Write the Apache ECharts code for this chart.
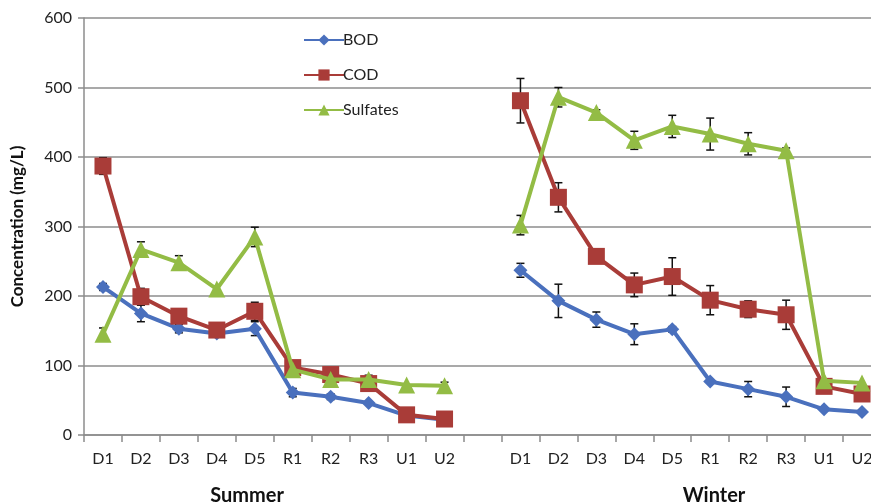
<!DOCTYPE html>
<html>
<head>
<meta charset="utf-8">
<script src="https://cdn.jsdelivr.net/npm/echarts@6/dist/echarts.min.js"></script>
<style>html,body{margin:0;padding:0;background:#fff}#c{width:871px;height:504px}</style>
</head>
<body>
<div id="c"></div>
<script>
var sites = ['D1','D2','D3','D4','D5','R1','R2','R3','U1','U2'];
var seasons = ['Summer','Winter'];
var yTicks = [0,100,200,300,400,500,600];

var summerBOD = [213, 175, 153, 146, 153, 61, 55, 46, 28, 22];
var summerCOD = [387, 199, 171, 151, 178, 97, 87, 74, 29, 23];
var summerSulf = [145, 267, 248, 210, 285, 94, 80, 80, 72, 71];
var winterBOD = [237, 193, 166, 145, 152, 77, 66, 55, 37, 33];
var winterCOD = [481, 342, 257, 216, 228, 194, 181, 173, 70, 59];
var winterSulf = [302, 486, 464, 424, 444, 433, 419, 409, 78, 75];

var summerBODErr = [5, 12, 6, 4, 10, 6, 4, 0, 0, 0];
var summerCODErr = [12, 12, 10, 4, 13, 4, 4, 5, 0, 0];
var summerSulfErr = [9, 11, 10, 4, 14, 0, 0, 6, 0, 5];
var winterBODErr = [10, 24, 11, 15, 4, 0, 11, 14, 0, 0];
var winterCODErr = [32, 21, 0, 17, 27, 21, 12, 21, 0, 0];
var winterSulfErr = [14, 14, 4, 13, 16, 23, 16, 4, 0, 0];

var categories = sites.concat([''], sites);
function join(a, b) { return a.concat([null], b); }
var bod = join(summerBOD, winterBOD);
var cod = join(summerCOD, winterCOD);
var sulf = join(summerSulf, winterSulf);
var bodErr = join(summerBODErr, winterBODErr);
var codErr = join(summerCODErr, winterCODErr);
var sulfErr = join(summerSulfErr, winterSulfErr);

function errData(vals, errs) {
  var out = [];
  for (var i = 0; i < vals.length; i++) {
    if (vals[i] != null && errs[i]) out.push([i, vals[i] - errs[i], vals[i] + errs[i]]);
  }
  return out;
}
function errSeries(vals, errs) {
  return {
    type: 'custom', silent: true, z: 1,
    data: errData(vals, errs),
    encode: { x: 0, y: [1, 2] },
    renderItem: function (params, api) {
      var lo = api.coord([api.value(0), api.value(1)]);
      var hi = api.coord([api.value(0), api.value(2)]);
      var w = 4;
      var st = { stroke: '#111', lineWidth: 1.5 };
      return { type: 'group', children: [
        { type: 'line', shape: { x1: lo[0], y1: lo[1], x2: hi[0], y2: hi[1] }, style: st },
        { type: 'line', shape: { x1: lo[0]-w, y1: lo[1], x2: lo[0]+w, y2: lo[1] }, style: st },
        { type: 'line', shape: { x1: hi[0]-w, y1: hi[1], x2: hi[0]+w, y2: hi[1] }, style: st }
      ]};
    }
  };
}

var FONT = 'Lato';
var colors = { BOD: '#4a70bd', COD: '#a93c38', Sulfates: '#93bc45' };

var chart = echarts.init(document.getElementById('c'), null, { renderer: 'canvas' });
chart.setOption({
  animation: false,
  backgroundColor: '#fff',
  textStyle: { fontFamily: FONT },
  grid: { left: 84, top: 18, width: 797, height: 417, outerBoundsMode: 'none', containLabel: false },
  legend: {
    data: ['BOD', 'COD', 'Sulfates'],
    orient: 'vertical', left: 298, top: 27,
    itemWidth: 40, itemHeight: 14, itemGap: 19,
    textStyle: { fontFamily: FONT, fontSize: 16, color: '#222', padding: [0,0,0,-6] }
  },
  xAxis: {
    type: 'category', data: categories, boundaryGap: true,
    axisLine: { lineStyle: { color: '#8c8c8c', width: 1.5 } },
    axisTick: { show: true, interval: 0, length: 7, lineStyle: { color: '#8c8c8c', width: 1.5 } },
    axisLabel: { interval: 0, margin: 16, fontSize: 16, color: '#222', fontFamily: FONT },
    splitLine: { show: false }
  },
  yAxis: {
    type: 'value', min: yTicks[0], max: yTicks[yTicks.length-1], interval: 100,
    name: 'Concentration (mg/L)', nameLocation: 'middle', nameGap: 58, nameRotate: 90,
    nameTextStyle: { fontFamily: FONT, fontSize: 17, fontWeight: 'bold', color: '#111' },
    axisLine: { show: true, lineStyle: { color: '#8c8c8c', width: 1.5 } },
    axisTick: { show: true, length: 6, lineStyle: { color: '#8c8c8c', width: 1.5 } },
    axisLabel: { margin: 12, fontSize: 16, color: '#222', fontFamily: FONT },
    splitLine: { show: true, lineStyle: { color: '#8c8c8c', width: 1.5 } }
  },
  graphic: [
    { type: 'text', x: 247, y: 496, style: { text: seasons[0], font: 'bold 20px Lato', fill: '#111', textAlign: 'center', textVerticalAlign: 'middle' } },
    { type: 'text', x: 714, y: 496, style: { text: seasons[1], font: 'bold 20px Lato', fill: '#111', textAlign: 'center', textVerticalAlign: 'middle' } }
  ],
  series: [
    errSeries(bod, bodErr),
    errSeries(cod, codErr),
    errSeries(sulf, sulfErr),
    { name: 'BOD', type: 'line', data: bod, z: 2, symbol: 'diamond', symbolSize: 14,
      lineStyle: { color: colors.BOD, width: 4 }, itemStyle: { color: colors.BOD } },
    { name: 'COD', type: 'line', data: cod, z: 3, symbol: 'rect', symbolSize: 17,
      lineStyle: { color: colors.COD, width: 4 }, itemStyle: { color: colors.COD } },
    { name: 'Sulfates', type: 'line', data: sulf, z: 4, symbol: 'triangle', symbolSize: 17,
      lineStyle: { color: colors.Sulfates, width: 4 }, itemStyle: { color: colors.Sulfates } }
  ]
});
</script>
</body>
</html>
